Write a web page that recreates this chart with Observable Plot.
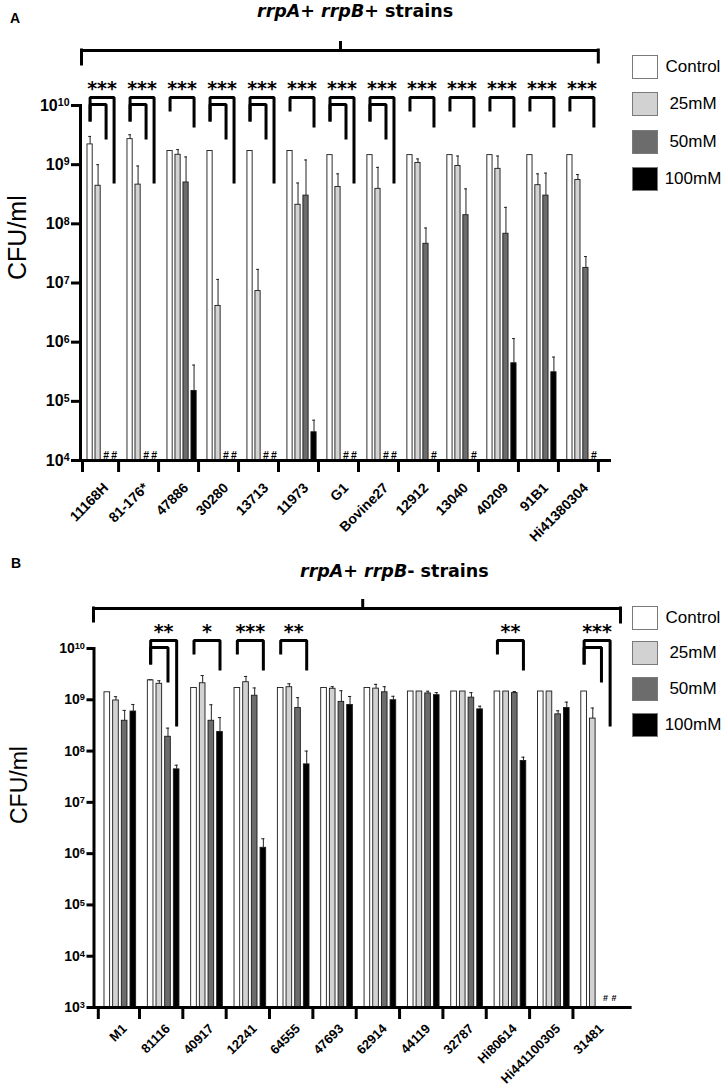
<!DOCTYPE html>
<html><head><meta charset="utf-8">
<script src="https://cdn.jsdelivr.net/npm/d3@7"></script>
<script src="https://cdn.jsdelivr.net/npm/@observablehq/plot@0.6"></script>
<style>
body{margin:0;background:#fff;}
#root{position:relative;width:725px;height:1089px;overflow:hidden;font-family:"Liberation Sans",Arial,sans-serif;}
.panel{position:absolute;left:0;width:725px;}
.panel svg{position:absolute;left:0;top:0;}
.letter{position:absolute;font:bold 14px "Liberation Sans",Arial,sans-serif;line-height:1;}
.title{position:absolute;font:bold 17.5px "DejaVu Sans",sans-serif;white-space:nowrap;line-height:1;}
.item{position:absolute;left:632px;display:flex;align-items:center;}
.box{width:26px;height:24px;box-sizing:border-box;border:1.5px solid #7a7a7a;}
.lab{width:58px;text-align:center;font-size:17px;margin-left:6px;}
</style></head><body><div id="root"></div>
<script>
// ---------- shared ----------
const concs = ["Control", "25mM", "50mM", "100mM"];
const fills = ["#ffffff", "#d2d2d2", "#6c6c6c", "#000000"];

// ---------- Panel A : rrpA+ rrpB+ strains ----------
const strainsA = ["11168H","81-176*","47886","30280","13713","11973","G1","Bovine27","12912","13040","40209","91B1","Hi41380304"];
const controlA     = [2.2e9, 2.7e9, 1.7e9, 1.7e9, 1.7e9, 1.7e9, 1.45e9, 1.45e9, 1.45e9, 1.45e9, 1.45e9, 1.45e9, 1.45e9];
const controlErrA  = [3.0e9, 3.2e9, null, null, null, null, null, null, null, null, null, null, null];
const mM25A        = [4.4e8, 4.6e8, 1.47e9, 4.1e6, 7.3e6, 2.1e8, 4.2e8, 3.9e8, 1.07e9, 9.5e8, 8.5e8, 4.5e8, 5.5e8];
const mM25ErrA     = [1.0e9, 9.5e8, 1.8e9, 1.15e7, 1.7e7, 4.9e8, 7.0e8, 9.0e8, 1.25e9, 1.4e9, 1.4e9, 7.0e8, 6.8e8];
const mM50A        = [0, 0, 5.0e8, 0, 0, 3.0e8, 0, 0, 4.6e7, 1.4e8, 6.8e7, 3.0e8, 1.8e7];
const mM50ErrA     = [null, null, 1.35e9, null, null, 1.2e9, null, null, 8.5e7, 3.9e8, 1.9e8, 7.2e8, 2.8e7];
const mM100A       = [0, 0, 1.5e5, 0, 0, 3.0e4, 0, 0, 0, 0, 4.4e5, 3.1e5, 0];
const mM100ErrA    = [null, null, 4.1e5, null, null, 4.8e4, null, null, null, null, 1.15e6, 5.6e5, null];
const sigA = [
  ["11168H", "***", ["50mM", "100mM"]],
  ["81-176*", "***", ["50mM", "100mM"]],
  ["47886", "***", ["100mM"]],
  ["30280", "***", ["50mM", "100mM"]],
  ["13713", "***", ["50mM", "100mM"]],
  ["11973", "***", ["100mM"]],
  ["G1", "***", ["50mM", "100mM"]],
  ["Bovine27", "***", ["50mM", "100mM"]],
  ["12912", "***", ["100mM"]],
  ["13040", "***", ["100mM"]],
  ["40209", "***", ["100mM"]],
  ["91B1", "***", ["100mM"]],
  ["Hi41380304", "***", ["100mM"]]
];
const yTicksA = [1e4, 1e5, 1e6, 1e7, 1e8, 1e9, 1e10];

// ---------- Panel B : rrpA+ rrpB- strains ----------
const strainsB = ["M1","81116","40917","12241","64555","47693","62914","44119","32787","Hi80614","Hi441100305","31481"];
const controlB     = [1.4e9, 2.4e9, 1.7e9, 1.7e9, 1.7e9, 1.7e9, 1.7e9, 1.45e9, 1.45e9, 1.45e9, 1.45e9, 1.45e9];
const controlErrB  = [null, 2.45e9, null, null, null, null, null, null, null, null, null, null];
const mM25B        = [9.7e8, 2.05e9, 2.1e9, 2.2e9, 1.76e9, 1.64e9, 1.65e9, 1.45e9, 1.45e9, 1.45e9, 1.45e9, 4.3e8];
const mM25ErrB     = [1.15e9, 2.35e9, 2.97e9, 2.85e9, 2.05e9, 1.8e9, 2.0e9, null, null, null, null, 6.9e8];
const mM50B        = [3.9e8, 1.9e8, 3.9e8, 1.2e9, 6.9e8, 9.1e8, 1.4e9, 1.33e9, 1.1e9, 1.35e9, 5.2e8, 0];
const mM50ErrB     = [6.2e8, 2.8e8, 8.0e8, 1.7e9, 1.1e9, 1.5e9, 1.8e9, 1.47e9, 1.38e9, 1.45e9, 6.1e8, null];
const mM100B       = [5.9e8, 4.4e7, 2.35e8, 1.3e6, 5.5e7, 7.9e8, 9.8e8, 1.23e9, 6.5e8, 6.4e7, 6.9e8, 0];
const mM100ErrB    = [8.1e8, 5.3e7, 4.5e8, 1.95e6, 1.0e8, 1.16e9, 1.17e9, 1.38e9, 7.5e8, 7.6e7, 9.0e8, null];
const sigB = [
  ["81116", "**", ["50mM", "100mM"]],
  ["40917", "*", ["100mM"]],
  ["12241", "***", ["100mM"]],
  ["64555", "**", ["100mM"]],
  ["Hi80614", "**", ["100mM"]],
  ["31481", "***", ["50mM", "100mM"]]
];
const yTicksB = [1e3, 1e4, 1e5, 1e6, 1e7, 1e8, 1e9, 1e10];

// ---------- drawing ----------
// bracket geometry in px below the 10^10 line (negative = above)
const G = {outerTop: -8, innerTop: -1, dblLeft: 16, sglLeft: 6, innerRight: 34, outerRight: 78, sglRight: 22, stars: -21};
const SANS = "Liberation Sans, Arial, sans-serif";

function makePanel(cfg) {
  const {strains, means, errs, sig, yMin, yTicks} = cfg;
  const keys = strains.flatMap(s => [...concs.map(c => s + "|" + c), s + "|gap"]);
  const rows = strains.flatMap((s, i) => concs.map((c, j) => ({strain: s, conc: c, key: s + "|" + c, value: means[j][i], err: errs[j][i]})));
  const bars = rows.filter(d => d.value > 0);
  const errRows = bars.filter(d => d.err != null);
  const zeros = rows.filter(d => d.value === 0);
  const ppd = (cfg.height - cfg.marginTop - cfg.marginBottom) / (10 - Math.log10(yMin));
  const yAt = px => 10 ** (10 - px / ppd);
  const yBelow = px => yMin / 10 ** (px / ppd);

  const brPts = [];
  sig.forEach(([s, stars, vs]) => {
    const dbl = vs.length > 1;
    vs.forEach((t, ti) => {
      const inner = dbl && ti === 0;
      const top = inner ? G.innerTop : G.outerTop;
      const l = dbl ? G.dblLeft : G.sglLeft;
      const r = dbl ? (inner ? G.innerRight : G.outerRight) : G.sglRight;
      const id = s + "/" + t;
      brPts.push({id, key: s + "|Control", y: yAt(l)}, {id, key: s + "|Control", y: yAt(top)},
                 {id, key: s + "|" + t, y: yAt(top)}, {id, key: s + "|" + t, y: yAt(r)});
    });
  });

  const tickKeys = strains.slice(0, cfg.nGapTicks).map(s => s + "|gap");
  const bb = cfg.bb;

  const svg = Plot.plot({
    width: 725, height: cfg.height,
    marginTop: cfg.marginTop, marginBottom: cfg.marginBottom,
    marginLeft: cfg.marginLeft, marginRight: cfg.marginRight,
    style: {fontFamily: SANS, background: "transparent", overflow: "visible", color: "#000"},
    x: {type: "band", domain: keys, paddingInner: 0.35, paddingOuter: cfg.paddingOuter, round: false, axis: null},
    y: {type: "log", domain: [yMin, 1e10]},
    color: {domain: concs, range: fills},
    marks: [
      Plot.barY(bars, {x: "key", y1: yMin, y2: "value", fill: "conc", stroke: "#1a1a1a", strokeWidth: 0.9}),
      Plot.ruleX(errRows, {x: "key", y1: "value", y2: "err", stroke: "#222", strokeWidth: 1}),
      Plot.tickY(errRows, {x: "key", y: "err", stroke: "#222", strokeWidth: 1, insetLeft: 1.2, insetRight: 1.2}),
      Plot.text(zeros, {x: "key", y: yMin, text: () => "#", dy: cfg.hashDy, dx: cfg.hashDx, fontSize: cfg.hashSize,
        fontWeight: "bold", fill: "#000", fontFamily: SANS}),
      // axes lines
      Plot.frame({anchor: "left", strokeWidth: 3, stroke: "#000"}),
      Plot.ruleY([yMin], {strokeWidth: 3, stroke: "#000"}),
      Plot.axisY({ticks: yTicks, tickFormat: d => "10^" + Math.round(Math.log10(d)), tickSize: cfg.yTickLen, tickPadding: 2,
        strokeWidth: 3, fontSize: cfg.yTickSize, fontWeight: "bold", fontFamily: SANS, fill: "#000", label: null}),
      // x separator ticks
      Plot.ruleX(tickKeys, {x: d => d, y1: yMin, y2: yBelow(12), strokeWidth: 3, dx: cfg.tickDx}),
      Plot.ruleX([keys[0]], {x: d => d, y1: yMin, y2: yBelow(12), strokeWidth: 3, dx: cfg.leadTickDx}),
      // x labels
      Plot.text(strains, {x: s => s + "|50mM", y: yMin, text: d => d, rotate: -45, textAnchor: "end",
        dy: cfg.labDy, dx: cfg.labDx, fontSize: cfg.labSize, fontWeight: "bold", fontFamily: SANS, fill: "#000"}),
      // y label
      Plot.text(["CFU/ml"], {frameAnchor: "left", text: d => d, rotate: -90, dx: cfg.ylabDx, dy: cfg.ylabDy,
        fontSize: cfg.ylabSize, fontFamily: SANS, fill: "#000"}),
      // significance brackets
      Plot.line(brPts, {x: "key", y: "y", z: "id", stroke: "#000", strokeWidth: 3, strokeLinejoin: "miter", strokeLinecap: "butt"}),
      Plot.text(sig, {x: d => d[0] + "|25mM", y: yAt(G.stars), text: d => d[1], dx: cfg.starDx, dy: 4,
        fontSize: 19, fontWeight: "bold", fontFamily: "DejaVu Sans, sans-serif", fill: "#000"}),
      // big group bracket
      Plot.ruleY([yAt(bb.top)], {x1: () => keys[0], x2: () => keys[keys.length - 1], strokeWidth: 3,
        insetLeft: bb.insetL, insetRight: bb.insetR}),
      Plot.ruleX([keys[0]], {x: d => d, y1: yAt(bb.legL), y2: yAt(bb.top), strokeWidth: 3, strokeLinecap: "square", dx: bb.dxL}),
      Plot.ruleX([keys[keys.length - 1]], {x: d => d, y1: yAt(bb.legR), y2: yAt(bb.top), strokeWidth: 3, strokeLinecap: "square", dx: bb.dxR}),
      Plot.ruleX([bb.midKey], {x: d => d, y1: yAt(bb.top), y2: yAt(bb.mid), strokeWidth: 3, dx: bb.dxM})
    ]
  });

  // superscript exponents on the y tick labels
  svg.querySelectorAll('[aria-label="y-axis tick label"] text').forEach(t => {
    const [b, e] = t.textContent.split("^");
    if (e === undefined) return;
    t.textContent = b;
    const ts = document.createElementNS("http://www.w3.org/2000/svg", "tspan");
    ts.setAttribute("dy", "-0.42em");
    ts.setAttribute("font-size", "0.66em");
    ts.textContent = e;
    t.appendChild(ts);
  });

  const div = document.createElement("div");
  div.className = "panel";
  div.style.top = cfg.top + "px";
  div.style.height = cfg.height + "px";
  div.appendChild(svg);

  const letter = document.createElement("div");
  letter.className = "letter";
  letter.textContent = cfg.letter;
  letter.style.left = cfg.letterPos[0] + "px";
  letter.style.top = cfg.letterPos[1] + "px";
  div.appendChild(letter);

  const title = document.createElement("div");
  title.className = "title";
  title.innerHTML = cfg.titleHTML;
  title.style.left = cfg.titlePos[0] + "px";
  title.style.top = cfg.titlePos[1] + "px";
  div.appendChild(title);

  concs.forEach((c, i) => {
    const it = document.createElement("div");
    it.className = "item";
    it.style.top = cfg.legendTops[i] + "px";
    const bx = document.createElement("div");
    bx.className = "box";
    bx.style.background = fills[i];
    const lb = document.createElement("div");
    lb.className = "lab";
    lb.textContent = c;
    it.appendChild(bx); it.appendChild(lb);
    div.appendChild(it);
  });
  return div;
}

const root = document.getElementById("root");
root.appendChild(makePanel({
  strains: strainsA,
  means: [controlA, mM25A, mM50A, mM100A],
  errs: [controlErrA, mM25ErrA, mM50ErrA, mM100ErrA],
  sig: sigA, yMin: 1e4, yTicks: yTicksA,
  top: 0, height: 545, marginTop: 105, marginBottom: 85, marginLeft: 80, marginRight: 114,
  paddingOuter: 0.875, nGapTicks: 13, tickDx: -3.5, leadTickDx: -7.6,
  hashDy: -5, hashDx: 0, hashSize: 10.5, yTickSize: 16, yTickLen: 9,
  labDy: 25, labDx: 0, labSize: 14, ylabDx: -63, ylabDy: -3, ylabSize: 25, starDx: 4,
  bb: {top: -55, legL: -41, legR: -43, mid: -64, insetL: -6, insetR: 6, dxL: -8.6, dxR: -3.6, midKey: "G1|25mM", dxM: 2.5},
  letter: "A", letterPos: [10, 11],
  titleHTML: "<i>rrpA</i>+ <i>rrpB</i>+ strains", titlePos: [257, 3],
  legendTops: [55, 92, 130, 167]
}));
root.appendChild(makePanel({
  strains: strainsB,
  means: [controlB, mM25B, mM50B, mM100B],
  errs: [controlErrB, mM25ErrB, mM50ErrB, mM100ErrB],
  sig: sigB, yMin: 1e3, yTicks: yTicksB,
  top: 545, height: 544, marginTop: 103, marginBottom: 82, marginLeft: 93.5, marginRight: 93.4,
  paddingOuter: 1.21, nGapTicks: 11, tickDx: -2.5, leadTickDx: -9,
  hashDy: -9, hashDx: 4, hashSize: 9, yTickSize: 14, yTickLen: 7,
  labDy: 19, labDx: 0, labSize: 13, ylabDx: -74, ylabDy: -4, ylabSize: 23, starDx: 4.3,
  bb: {top: -40, legL: -27, legR: -26, mid: -49, insetL: -11, insetR: 1, dxL: -13.8, dxR: 1.7, midKey: "47693|gap", dxM: 4},
  letter: "B", letterPos: [11, 11],
  titleHTML: "<i>rrpA</i>+ <i>rrpB</i>- strains", titlePos: [300, 18],
  legendTops: [61, 96, 132, 168]
}));
</script></body></html>
